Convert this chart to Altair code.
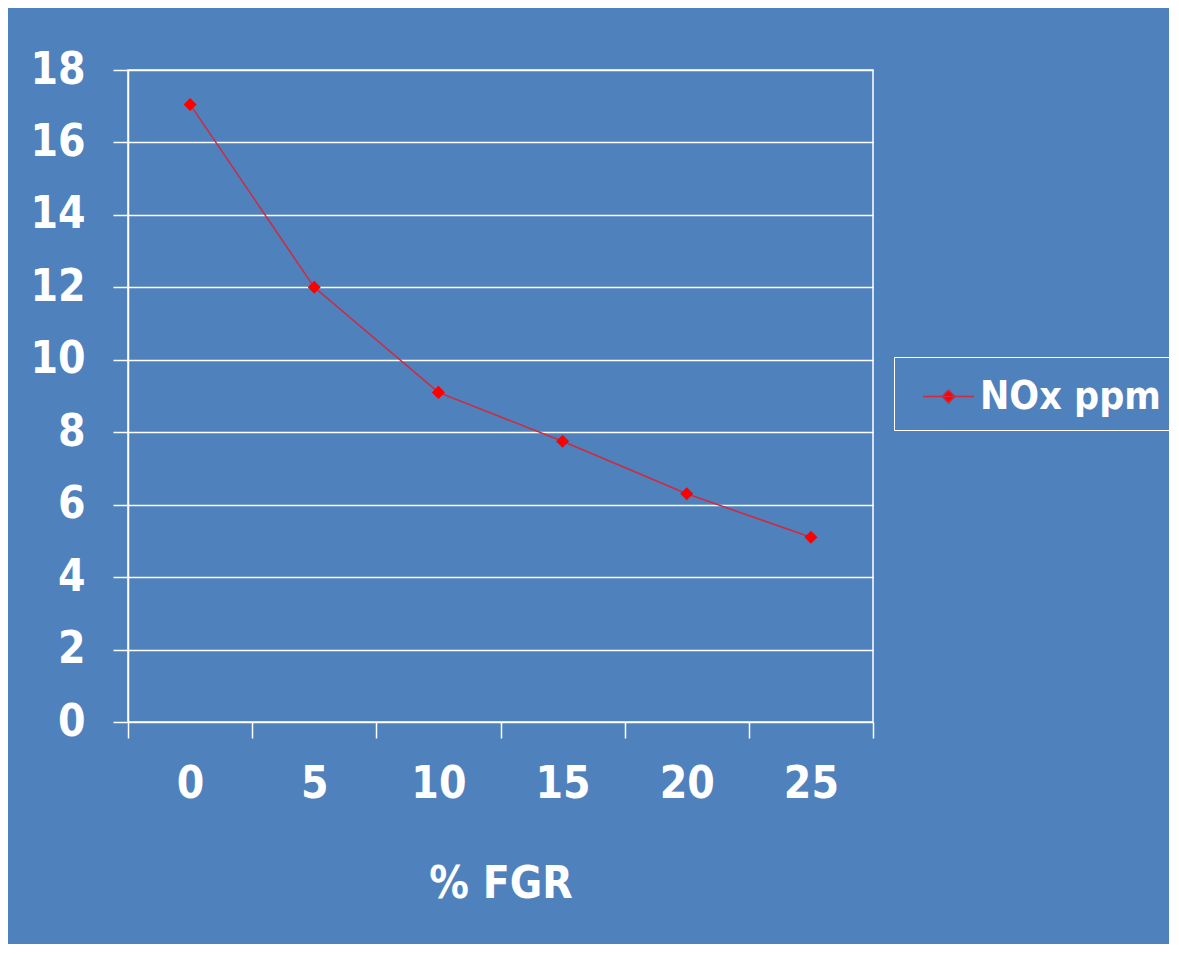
import altair as alt
import pandas as pd

fgr = [0, 5, 10, 15, 20, 25]
nox = [17.05, 12.0, 9.1, 7.75, 6.3, 5.1]
series = "NOx ppm"
x_ticks = [-2.5, 2.5, 7.5, 12.5, 17.5, 22.5, 27.5]
y_ticks = [0, 2, 4, 6, 8, 10, 12, 14, 16, 18]

df = pd.DataFrame({"fgr": fgr, "nox": nox, "series": [series] * len(fgr)})

FONT = "DejaVu Sans Condensed, DejaVu Sans"
BG = "#4F81BD"
LINE = "#D02A3C"

xscale = alt.Scale(domain=[-2.5, 27.5], nice=False, zero=False)
yscale = alt.Scale(domain=[0, 18], nice=False, zero=True)

yaxis = alt.Axis(values=y_ticks, grid=True, gridColor="white", gridWidth=1.5,
                 domain=True, domainColor="white", domainWidth=1.5,
                 ticks=True, tickColor="white", tickWidth=1.5, tickSize=15,
                 labelFont=FONT, labelFontSize=44, labelFontWeight="bold",
                 labelColor="white", labelPadding=28, title=None)

line = alt.Chart(df).mark_line(color=LINE, strokeWidth=1.5).encode(
    x=alt.X("fgr:Q", scale=xscale,
            axis=alt.Axis(orient="bottom", values=x_ticks, labels=False, grid=False,
                          domain=False, ticks=True, tickColor="white", tickWidth=1.5,
                          tickSize=16, title=None)),
    y=alt.Y("nox:Q", scale=yscale, axis=yaxis),
)

points = alt.Chart(df).mark_point(filled=True, shape="diamond", size=170, opacity=1).encode(
    x=alt.X("fgr:Q", scale=xscale,
            axis=alt.Axis(orient="bottom", values=fgr, labels=True, grid=False, domain=False,
                          ticks=True, tickOpacity=0, tickSize=16,
                          labelFont=FONT, labelFontSize=44, labelFontWeight="bold",
                          labelColor="white", labelPadding=59, labelBaseline="alphabetic",
                          title="% FGR", titleFont=FONT, titleFontSize=44,
                          titleFontWeight="bold", titleColor="white",
                          titleY=175, titleBaseline="alphabetic")),
    y=alt.Y("nox:Q", scale=yscale, axis=yaxis),
    color=alt.Color("series:N", scale=alt.Scale(range=["#FF0000"]),
                    legend=alt.Legend(title=None, orient="none", legendX=766, legendY=287,
                                      strokeColor="white", padding=13,
                                      symbolType="M-1,0L1,0M-0.25,0L0,-0.25L0.25,0L0,0.25Z",
                                      symbolSize=2601, symbolStrokeWidth=1.5,
                                      symbolStrokeColor=LINE, symbolFillColor="#FF0000",
                                      symbolOffset=15, labelOffset=5, labelLimit=400,
                                      labelFont=FONT, labelFontSize=39,
                                      labelFontWeight="bold", labelColor="white")),
)

chart = alt.layer(line, points).resolve_axis(x="independent").properties(
    width=745, height=652,
    autosize=alt.AutoSizeParams(type="none"),
    padding={"left": 120, "top": 62, "right": 296, "bottom": 222},
    background=BG,
).configure_view(stroke="white", strokeWidth=1.5)

chart.save("out.html", embed_options={"renderer": "svg", "actions": False})
